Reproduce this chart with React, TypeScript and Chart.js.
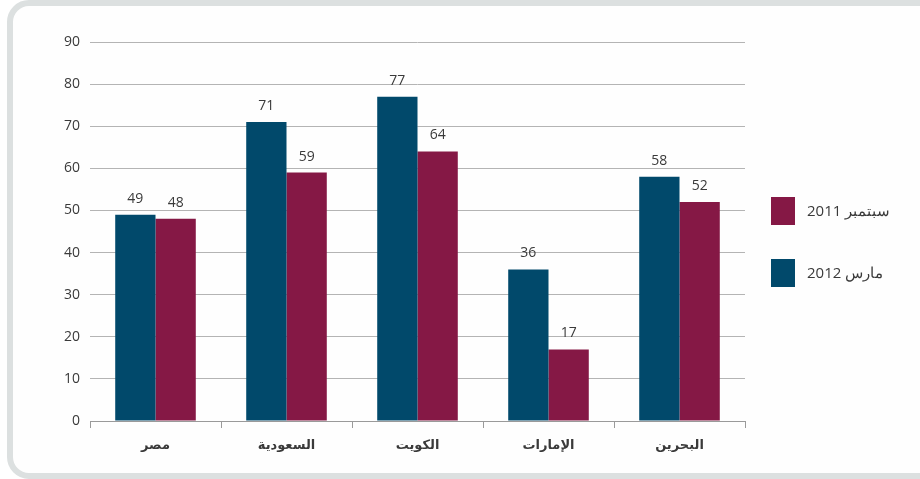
import React, { useEffect, useRef } from "react";
import { Chart, registerables } from "chart.js";

Chart.register(...registerables);

const categories = ["مصر", "السعودية", "الكويت", "الإمارات", "البحرين"];
const march2012 = [49, 71, 77, 36, 58];
const sept2011 = [48, 59, 64, 17, 52];
const seriesLabels = ["مارس 2012", "سبتمبر 2011"];
const seriesColors = ["#01496b", "#851845"];
const yTicksMax = 90;
const yTickStep = 10;

const TEXT = "#3a3a3a";
const FONT = "'Open Sans', sans-serif";
const AR_FONT = "'Open Sans', 'DejaVu Sans', sans-serif";

const valueLabels = {
  id: "valueLabels",
  afterDatasetsDraw(chart: any) {
    const ctx = chart.ctx;
    ctx.save();
    ctx.font = `14px ${FONT}`;
    ctx.fillStyle = TEXT;
    ctx.textAlign = "center";
    ctx.textBaseline = "alphabetic";
    chart.data.datasets.forEach((ds: any, i: number) => {
      const meta = chart.getDatasetMeta(i);
      meta.data.forEach((bar: any, j: number) => {
        ctx.fillText(String(ds.data[j]), bar.x, bar.y - 12);
      });
    });
    ctx.restore();
  },
};

const sideLegend = {
  id: "sideLegend",
  afterDraw(chart: any) {
    const ctx = chart.ctx;
    const area = chart.chartArea;
    const n = chart.data.datasets.length;
    ctx.save();
    ctx.font = `15px ${FONT}`;
    ctx.textBaseline = "middle";
    ctx.textAlign = "left";
    (ctx as any).direction = "rtl";
    for (let k = 0; k < n; k++) {
      const i = n - 1 - k; // reversed order
      const ds = chart.data.datasets[i];
      const x = area.right + 26;
      const y = area.top + 155 + k * 62;
      ctx.fillStyle = ds.backgroundColor;
      ctx.fillRect(x, y, 24, 28);
      ctx.fillStyle = TEXT;
      ctx.fillText(ds.label, x + 36, y + 15);
    }
    ctx.restore();
  },
};

export default function App() {
  const ref = useRef<HTMLCanvasElement | null>(null);

  useEffect(() => {
    if (!ref.current) return;
    const chart = new Chart(ref.current, {
      type: "bar",
      data: {
        labels: categories,
        datasets: [
          {
            label: seriesLabels[0],
            data: march2012,
            backgroundColor: seriesColors[0],
            barPercentage: 1,
            categoryPercentage: 0.615,
          },
          {
            label: seriesLabels[1],
            data: sept2011,
            backgroundColor: seriesColors[1],
            barPercentage: 1,
            categoryPercentage: 0.615,
          },
        ],
      },
      options: {
        responsive: false,
        animation: false,
        layout: { padding: { top: 36, right: 175, left: 0, bottom: 0 } },
        plugins: {
          legend: { display: false },
          tooltip: { enabled: false },
        },
        scales: {
          x: {
            grid: {
              offset: true,
              drawOnChartArea: false,
              drawTicks: true,
              tickLength: 7,
              color: "#9a9a9a",
            },
            border: { display: true, color: "#9a9a9a", width: 1 },
            ticks: {
              color: TEXT,
              padding: 9,
              font: { family: AR_FONT, size: 13, weight: "bold" },
            },
            afterFit: (s: any) => {
              s.height = 51;
            },
          },
          y: {
            min: 0,
            max: yTicksMax,
            grid: { color: "#b4b4b4", drawTicks: false, lineWidth: 1 },
            border: { display: false },
            ticks: {
              stepSize: yTickStep,
              color: TEXT,
              padding: 10,
              font: { family: FONT, size: 14 },
            },
            afterFit: (s: any) => {
              s.width = 78;
            },
          },
        },
      },
      plugins: [valueLabels, sideLegend],
    });
    return () => chart.destroy();
  }, []);

  return (
    <div style={{ position: "fixed", inset: 0, background: "#ffffff", overflow: "hidden" }}>
      <div
        style={{
          position: "absolute",
          left: 7,
          top: 0,
          width: 960,
          height: 479,
          boxSizing: "border-box",
          border: "6px solid #dce0e0",
          borderRadius: 22,
          background: "#fefefe",
        }}
      />
      <canvas
        ref={ref}
        width={908}
        height={466}
        style={{ position: "absolute", left: 12, top: 6, width: 908, height: 466, display: "block" }}
      />
    </div>
  );
}
